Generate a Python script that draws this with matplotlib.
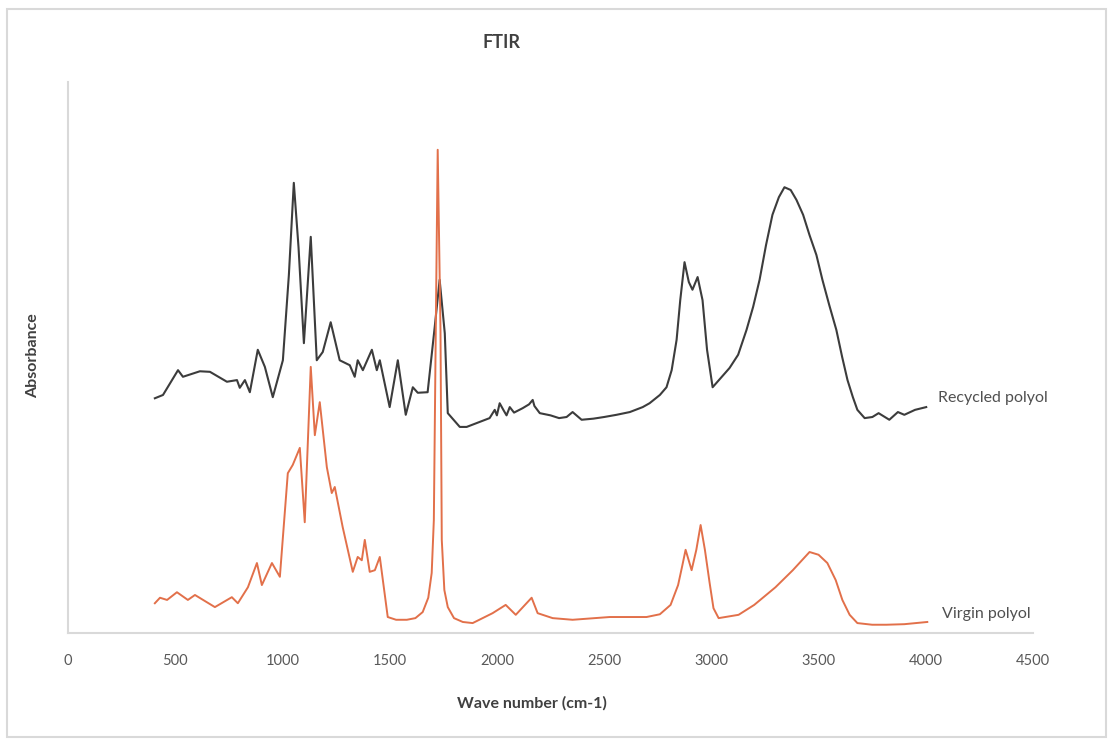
import matplotlib
matplotlib.use("Agg")
import matplotlib.pyplot as plt
from matplotlib.patches import Rectangle

# ---------------- data ----------------
recycled_wn = [405, 443, 513, 536, 615, 662, 741, 788, 801, 825, 848, 885, 918, 955,
               1002, 1030, 1053, 1075, 1100, 1132, 1160, 1188, 1225, 1267, 1314, 1337,
               1351, 1375, 1417, 1440, 1454, 1500, 1538, 1575, 1608, 1631, 1677, 1710,
               1733, 1757, 1771, 1827, 1859, 1966, 1990, 2000, 2013, 2030, 2045, 2060,
               2080, 2120, 2150, 2167, 2175, 2200, 2250, 2290, 2325, 2353, 2395, 2450,
               2500, 2558, 2620, 2680, 2712, 2760, 2791, 2815, 2838, 2855, 2875, 2895,
               2912, 2936, 2959, 2980, 3006, 3085, 3125, 3164, 3195, 3225, 3255, 3285,
               3315, 3341, 3370, 3397, 3428, 3458, 3490, 3518, 3550, 3583, 3610, 3635,
               3660, 3681, 3715, 3751, 3780, 3830, 3870, 3900, 3950, 4002]
recycled_abs = [0.426, 0.432, 0.477, 0.465, 0.475, 0.474, 0.456, 0.459, 0.445, 0.459,
                0.437, 0.514, 0.483, 0.428, 0.495, 0.650, 0.817, 0.700, 0.526, 0.719,
                0.495, 0.510, 0.564, 0.495, 0.486, 0.465, 0.495, 0.477, 0.514, 0.477,
                0.495, 0.410, 0.495, 0.396, 0.446, 0.436, 0.437, 0.555, 0.641, 0.544,
                0.399, 0.374, 0.374, 0.390, 0.405, 0.395, 0.417, 0.405, 0.395, 0.410,
                0.400, 0.408, 0.415, 0.423, 0.412, 0.399, 0.395, 0.390, 0.392, 0.401,
                0.387, 0.389, 0.392, 0.396, 0.401, 0.410, 0.417, 0.432, 0.446, 0.477,
                0.532, 0.604, 0.673, 0.637, 0.623, 0.646, 0.604, 0.514, 0.446, 0.481,
                0.505, 0.550, 0.592, 0.641, 0.704, 0.759, 0.791, 0.809, 0.804, 0.786,
                0.759, 0.722, 0.686, 0.641, 0.595, 0.550, 0.501, 0.459, 0.428, 0.405,
                0.390, 0.392, 0.399, 0.387, 0.401, 0.396, 0.405, 0.410]

virgin_wn = [405, 429, 462, 508, 559, 592, 685, 764, 792, 839, 881, 904, 951, 988,
             1025, 1048, 1081, 1104, 1132, 1151, 1174, 1207, 1230, 1244, 1281, 1328,
             1351, 1370, 1384, 1407, 1431, 1454, 1491, 1530, 1580, 1620, 1654, 1680,
             1696, 1706, 1715, 1724, 1737, 1743, 1755, 1771, 1800, 1841, 1887, 1980,
             2041, 2088, 2162, 2190, 2260, 2353, 2526, 2698, 2760, 2810, 2845, 2865,
             2880, 2908, 2930, 2950, 2970, 2992, 3010, 3034, 3127, 3200, 3299, 3380,
             3458, 3500, 3541, 3580, 3611, 3645, 3681, 3750, 3816, 3900, 4007]
virgin_abs = [0.054, 0.064, 0.060, 0.074, 0.060, 0.069, 0.047, 0.065, 0.054, 0.083,
              0.127, 0.087, 0.127, 0.102, 0.290, 0.305, 0.336, 0.201, 0.483, 0.359,
              0.419, 0.301, 0.254, 0.265, 0.192, 0.111, 0.138, 0.132, 0.169, 0.111,
              0.114, 0.138, 0.029, 0.024, 0.024, 0.027, 0.038, 0.064, 0.109, 0.205,
              0.550, 0.877, 0.550, 0.169, 0.078, 0.047, 0.027, 0.020, 0.018, 0.036,
              0.051, 0.033, 0.064, 0.036, 0.027, 0.024, 0.029, 0.029, 0.034, 0.051,
              0.087, 0.123, 0.151, 0.114, 0.151, 0.196, 0.151, 0.091, 0.045, 0.027,
              0.033, 0.051, 0.083, 0.114, 0.147, 0.142, 0.127, 0.096, 0.060, 0.033,
              0.018, 0.015, 0.015, 0.016, 0.020]

x_ticks = [0, 500, 1000, 1500, 2000, 2500, 3000, 3500, 4000, 4500]
series_labels = ["Recycled polyol", "Virgin polyol"]

# ---------------- figure ----------------
W, H = 1108, 740
fig = plt.figure(figsize=(W / 100, H / 100), dpi=100)
fig.patch.set_facecolor("white")
fig.patches.append(Rectangle((7 / W, 1 - 737 / H), (1106 - 7) / W, (737 - 9) / H,
                             transform=fig.transFigure, fill=False,
                             edgecolor="#D9D9D9", linewidth=1.5))

ax = fig.add_axes([68 / W, 1 - 633 / H, (1033 - 68) / W, (633 - 82) / H])
ax.plot(recycled_wn, recycled_abs, color="#3C3C3C", linewidth=1.5, zorder=2)
ax.plot(virgin_wn, virgin_abs, color="#E2704A", linewidth=1.4, zorder=3)

ax.set_xlim(0, 4500)
ax.set_ylim(0, 1.0)
ax.set_xticks(x_ticks)
ax.set_xticklabels([str(t) for t in x_ticks], fontfamily="Lato", fontsize=10.5,
                   color="#595959")
ax.set_yticks([])
ax.tick_params(axis="x", length=0, pad=15)
for s in ("top", "right"):
    ax.spines[s].set_visible(False)
for s in ("left", "bottom"):
    ax.spines[s].set_color("#D9D9D9")
    ax.spines[s].set_linewidth(1.5)

ax.text(4058, 0.426, series_labels[0], fontfamily="Lato", fontsize=11.5,
        color="#505050", ha="left", va="center", clip_on=False)
ax.text(4076, 0.034, series_labels[1], fontfamily="Lato", fontsize=11.5,
        color="#505050", ha="left", va="center", clip_on=False)

fig.text(501 / W, 1 - 43 / H, "FTIR", fontfamily="Lato", fontweight="bold",
         fontsize=13, color="#404040", ha="center", va="center")
fig.text(532 / W, 1 - 703 / H, "Wave number (cm-1)", fontfamily="Lato",
         fontweight="bold", fontsize=11.5, color="#404040", ha="center", va="center")
fig.text(33 / W, 1 - 356 / H, "Absorbance", fontfamily="Lato", fontweight="bold",
         fontsize=11.5, color="#404040", ha="center", va="center", rotation=90)

fig.savefig("out.png", dpi=100, facecolor="white")
